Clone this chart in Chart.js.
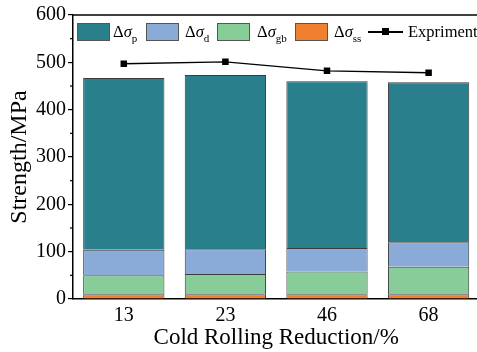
<!DOCTYPE html>
<html>
<head>
<meta charset="utf-8">
<script src="https://cdn.jsdelivr.net/npm/chart.js@4.4.1/dist/chart.umd.min.js"></script>
<style>
html,body{margin:0;padding:0;overflow:hidden;background:#fff;width:477px;height:352px;}
#wrap{position:absolute;left:0;top:0;width:484px;height:352px;}
.lg{position:absolute;font-family:"Liberation Serif","Times New Roman",serif;font-size:16.5px;color:#000;line-height:18px;white-space:nowrap;}
.lg i{font-style:italic;}
.lg sub{font-size:11px;vertical-align:-5px;line-height:0;}
.box{position:absolute;width:31px;height:16px;border:1px solid #555;}
</style>
</head>
<body>
<div id="wrap"><canvas id="c" width="484" height="352"></canvas></div>
<div class="box" style="left:77px;top:23px;background:#2A7F8D"></div>
<div class="lg" style="left:113px;top:23px">Δ<i>σ</i><sub>p</sub></div>
<div class="box" style="left:146px;top:23px;background:#8AAAD8"></div>
<div class="lg" style="left:185px;top:23px">Δ<i>σ</i><sub>d</sub></div>
<div class="box" style="left:217px;top:23px;background:#88CC99"></div>
<div class="lg" style="left:257px;top:23px">Δ<i>σ</i><sub>gb</sub></div>
<div class="box" style="left:295px;top:23px;background:#F08030"></div>
<div class="lg" style="left:334px;top:23px">Δ<i>σ</i><sub>ss</sub></div>
<div style="position:absolute;left:368px;top:31px;width:35px;height:1.5px;background:#000"></div>
<div style="position:absolute;left:382px;top:28px;width:7px;height:7px;background:#000"></div>
<div class="lg" style="left:408px;top:23px">Expriment</div>
<script>
const categories = ['13', '23', '46', '68'];
const sigmaSS = [10, 10, 10, 10];
const sigmaGB = [40, 43, 48, 58];
const sigmaD = [54, 52, 50, 52];
const sigmaP = [363, 368, 352, 338];
const experiment = [497, 501, 482, 478];
const yTicks = [0, 100, 200, 300, 400, 500, 600];
const yMinorTicks = [50, 150, 250, 350, 450, 550];

const FONT = '"Liberation Serif","Times New Roman",serif';

const framePlugin = {
  id: 'frame',
  afterDraw(chart) {
    const ctx = chart.ctx;
    const a = chart.chartArea;
    const y = chart.scales.y;
    ctx.save();
    ctx.strokeStyle = '#000';
    ctx.lineWidth = 1.5;
    ctx.beginPath();
    ctx.moveTo(a.left, a.top);
    ctx.lineTo(a.right, a.top);
    ctx.stroke();
    ctx.lineWidth = 1.2;
    yMinorTicks.forEach(v => {
      const py = y.getPixelForValue(v);
      ctx.beginPath();
      ctx.moveTo(a.left - 3, py);
      ctx.lineTo(a.left, py);
      ctx.stroke();
    });
    ctx.restore();
  }
};

const barCommon = {
  type: 'bar',
  stack: 'bars',
  borderColor: '#3c3c3c',
  borderWidth: 1,
  barPercentage: 0.8,
  categoryPercentage: 1.0,
  order: 2
};

new Chart(document.getElementById('c'), {
  data: {
    labels: categories,
    datasets: [
      Object.assign({}, barCommon, {label: 'ss', data: sigmaSS, backgroundColor: '#F08030'}),
      Object.assign({}, barCommon, {label: 'gb', data: sigmaGB, backgroundColor: '#88CC99'}),
      Object.assign({}, barCommon, {label: 'd', data: sigmaD, backgroundColor: '#8AAAD8'}),
      Object.assign({}, barCommon, {label: 'p', data: sigmaP, backgroundColor: '#2A7F8D'}),
      {
        type: 'line', label: 'Expriment', data: experiment, stack: 'expt',
        borderColor: '#000', borderWidth: 1.3, backgroundColor: '#000',
        pointStyle: 'rect', pointRadius: 4.6, pointBorderWidth: 0,
        tension: 0, order: 0
      }
    ]
  },
  options: {
    responsive: false,
    animation: false,
    events: [],
    layout: {padding: {top: 15, right: 3, bottom: 0, left: 0}},
    plugins: {legend: {display: false}, tooltip: {enabled: false}},
    scales: {
      x: {
        stacked: true,
        offset: true,
        grid: {display: false, drawTicks: false},
        border: {display: true, color: '#000', width: 1.5},
        ticks: {color: '#000', padding: 5, font: {family: FONT, size: 20, lineHeight: 1.2}},
        title: {display: true, text: 'Cold Rolling Reduction/%', color: '#000',
                padding: {top: 0, bottom: 0}, font: {family: FONT, size: 23, lineHeight: 1.2}},
        afterFit(s) { s.height = 53; }
      },
      y: {
        stacked: true,
        min: 0, max: 600,
        afterBuildTicks(s) { s.ticks = yTicks.map(v => ({value: v})); },
        grid: {drawOnChartArea: false, drawTicks: true, tickLength: 5, color: '#000', lineWidth: 1.2},
        border: {display: true, color: '#000', width: 1.5},
        ticks: {color: '#000', padding: 2, font: {family: FONT, size: 20, lineHeight: 1.2}},
        title: {display: true, text: 'Strength/MPa', color: '#000',
                padding: {top: 5, bottom: 0}, font: {family: FONT, size: 24, lineHeight: 1.2}},
        afterFit(s) { s.width = 73; }
      }
    }
  },
  plugins: [framePlugin]
});
</script>
</body>
</html>
